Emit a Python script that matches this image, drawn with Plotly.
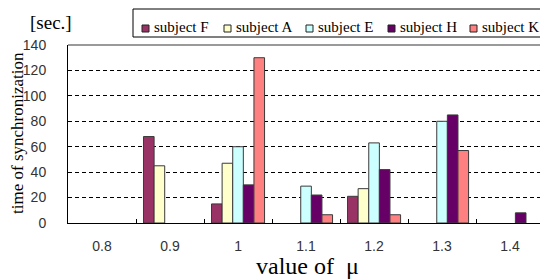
import plotly.graph_objects as go

# ---- data ----
categories = ["0.8", "0.9", "1", "1.1", "1.2", "1.3", "1.4"]
subjects = ["subject F", "subject A", "subject E", "subject H", "subject K"]
subject_F = [None, 68, 15, None, 21, None, None]
subject_A = [None, 45, 47, None, 27, None, None]
subject_E = [None, None, 60, 29, 63, 80, None]
subject_H = [None, None, 30, 22, 42, 85, 8]
subject_K = [None, None, 130, 6.5, 6.5, 57, None]
y_ticks = [0, 20, 40, 60, 80, 100, 120, 140]

series = [subject_F, subject_A, subject_E, subject_H, subject_K]
colors = ["#993366", "#FFFFCC", "#CCFFFF", "#660066", "#FF8080"]

W, H = 540, 280
ML, MR, MT, MB = 68, 0, 45, 57
PW, PH = W - ML - MR, H - MT - MB


def px(x):
    return (x - ML) / PW


def py(y):
    return (H - MB - y) / PH


fig = go.Figure()
for name, vals, col in zip(subjects, series, colors):
    fig.add_trace(go.Bar(
        x=categories, y=vals, name=name,
        marker=dict(color=col, line=dict(color="#3a3a3a", width=1)),
        showlegend=False,
    ))

serif = "Liberation Serif, Times New Roman, serif"
sans = "Liberation Sans, Arial, sans-serif"

shapes = []
annotations = []

# top border of plot area
shapes.append(dict(type="line", xref="paper", yref="paper", x0=0, x1=1, y0=1, y1=1,
                   line=dict(color="#9a9a9a", width=2)))
# legend box
shapes.append(dict(type="rect", xref="paper", yref="paper",
                   x0=px(133), x1=px(546), y0=py(37), y1=py(9),
                   line=dict(color="black", width=1), fillcolor="white"))
for i, (name, col) in enumerate(zip(subjects, colors)):
    mx = 142 + i * 82
    shapes.append(dict(type="rect", xref="paper", yref="paper",
                       x0=px(mx), x1=px(mx + 7), y0=py(32), y1=py(25),
                       line=dict(color="#222", width=1), fillcolor=col))
    annotations.append(dict(text=name, xref="paper", yref="paper",
                            x=px(mx + 10), y=py(27), xanchor="left", yanchor="middle",
                            showarrow=False, font=dict(family=serif, size=15, color="black")))

annotations.append(dict(text="[sec.]", xref="paper", yref="paper", x=px(51), y=py(22),
                        xanchor="center", yanchor="middle", showarrow=False,
                        font=dict(family=serif, size=19, color="black")))
annotations.append(dict(text="time of synchronization", xref="paper", yref="paper",
                        x=px(17), y=py(133), xanchor="center", yanchor="middle",
                        textangle=-90, showarrow=False,
                        font=dict(family=serif, size=17, color="black")))
annotations.append(dict(text="value of  μ", xref="paper", yref="paper",
                        x=px(307), y=py(266), xanchor="center", yanchor="middle",
                        showarrow=False,
                        font=dict(family=serif, size=24, color="black")))

fig.update_layout(
    width=W, height=H,
    margin=dict(l=ML, r=MR, t=MT, b=MB, pad=0),
    paper_bgcolor="white", plot_bgcolor="white",
    barmode="group", bargap=0.22, bargroupgap=0,
    shapes=shapes, annotations=annotations,
    showlegend=False,
    xaxis=dict(type="category", categoryorder="array", categoryarray=categories,
               range=[-0.5, 6.44], tickson="boundaries", ticks="inside", ticklen=4,
               tickcolor="black", showline=True, linecolor="black", linewidth=1,
               showgrid=False, ticklabelstandoff=10,
               tickfont=dict(family=sans, size=14, color="#333")),
    yaxis=dict(range=[0, 140], tickvals=y_ticks, showline=True, linecolor="black",
               linewidth=1, ticks="", showgrid=True, gridcolor="black", gridwidth=1,
               griddash="4px,3px", zeroline=False, ticklabelstandoff=18,
               tickfont=dict(family=sans, size=14, color="#333")),
)

fig.write_html("out.html", config={"displayModeBar": False},
               post_script="document.body.style.margin='0';document.body.style.overflow='hidden';")
